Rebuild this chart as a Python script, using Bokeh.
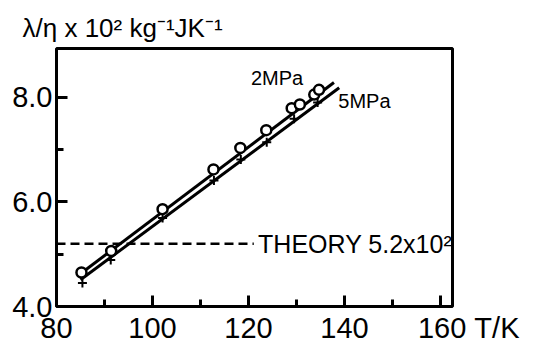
from bokeh.plotting import figure
from bokeh.models import Range1d, FixedTicker, PrintfTickFormatter, Label
from bokeh.embed import file_html
from bokeh.resources import INLINE

# ---- data ----
T_2MPA = [85.2, 91.4, 102.1, 112.7, 118.3, 123.7, 129.0, 130.7, 133.7, 134.7]
V_2MPA = [4.65, 5.06, 5.86, 6.62, 7.03, 7.37, 7.79, 7.86, 8.05, 8.14]

T_5MPA = [85.4, 91.3, 102.1, 112.8, 118.4, 123.8, 129.5, 134.4]
V_5MPA = [4.45, 4.89, 5.69, 6.41, 6.81, 7.14, 7.59, 7.90]

FIT_T_2MPA = [85.2, 137.8]
FIT_V_2MPA = [4.64, 8.28]
FIT_T_5MPA = [85.0, 138.9]
FIT_V_5MPA = [4.51, 8.18]

THEORY = 5.2

X_TICKS = [80, 100, 120, 140, 160]
X_MINOR = [90, 110, 130, 150]
Y_TICKS = [4.0, 6.0, 8.0]
Y_MINOR = [5.0, 7.0]

Y_TITLE = "λ/η x 10² kg⁻¹JK⁻¹"
X_TITLE = "T/K"

FONT = "Liberation Sans"
NB = "\u00a0"

p = figure(width=556, height=347,
           x_range=Range1d(80, 162.5), y_range=Range1d(4.0, 8.93),
           output_backend="svg", toolbar_location=None,
           min_border_left=56, min_border_right=104,
           min_border_top=48, min_border_bottom=41)
p.grid.visible = False
p.outline_line_color = "black"
p.outline_line_width = 3
p.background_fill_color = "white"
p.border_fill_color = "white"

# y-axis title placed at top-left as the plot title
p.title.text = Y_TITLE
p.title.align = "left"
p.title.vertical_align = "top"
p.title.offset = -34
p.title.standoff = 8
p.title.text_font = FONT
p.title.text_font_size = "26px"
p.title.text_font_style = "normal"
p.title.text_color = "black"

for ax, ticks, minor in ((p.xaxis[0], X_TICKS, X_MINOR), (p.yaxis[0], Y_TICKS, Y_MINOR)):
    ax.ticker = FixedTicker(ticks=ticks, minor_ticks=minor)
    ax.axis_line_color = None
    ax.major_tick_in = 11
    ax.major_tick_out = 0
    ax.minor_tick_in = 7
    ax.minor_tick_out = 0
    ax.major_tick_line_width = 3
    ax.minor_tick_line_width = 3
    ax.major_tick_line_color = "black"
    ax.minor_tick_line_color = "black"
    ax.major_label_text_font = FONT
    ax.major_label_text_font_size = "29px"
    ax.major_label_text_color = "black"

p.xaxis[0].major_label_standoff = 5
p.yaxis[0].major_label_standoff = 4
p.yaxis[0].formatter = PrintfTickFormatter(format="%.1f")
p.xaxis[0].formatter = PrintfTickFormatter(format="%d")
# x-axis unit text sits on the tick-label row, right of the last label
last = X_TICKS[-1]
p.xaxis[0].major_label_overrides = {last: NB * 7 + str(last) + NB + X_TITLE}

# theory dashed line
THEORY_LABEL_X = 122.0
p.line(x=[80, THEORY_LABEL_X - 0.9], y=[THEORY, THEORY], line_color="black",
       line_width=2.5, line_dash="9 5")

# fit lines
p.line(FIT_T_2MPA, FIT_V_2MPA, line_color="black", line_width=3)
p.line(FIT_T_5MPA, FIT_V_5MPA, line_color="black", line_width=3)

# points
p.scatter(T_5MPA, V_5MPA, marker="cross", size=9, line_color="black", line_width=2)
p.scatter(T_2MPA, V_2MPA, marker="circle", size=10, line_color="black",
          line_width=2.5, fill_color="white")

def lab(x, y, text, size):
    p.add_layout(Label(x=x, y=y, text=text, text_font=FONT, text_font_size=size,
                       text_color="black", text_baseline="alphabetic", text_align="left"))

lab(120.5, 8.36, "2MPa", "20px")
lab(138.7, 7.92, "5MPa", "20px")
lab(THEORY_LABEL_X, 5.19, "THEORY 5.2x10²", "25px")

open("out.html", "w").write(file_html(p, INLINE))
